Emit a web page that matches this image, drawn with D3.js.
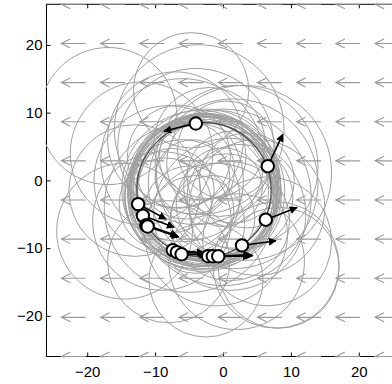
<!DOCTYPE html>
<html>
<head>
<meta charset="utf-8">
<script src="https://cdn.jsdelivr.net/npm/d3@7"></script>
<style>
  body { margin: 0; background: #fff; }
  text { font-family: "Liberation Sans", Arial, Helvetica, sans-serif; }
</style>
</head>
<body>
<div id="chart"></div>
<script>
// axis ticks
const xTicks = [-20, -10, 0, 10, 20];
const yTicks = [-20, -10, 0, 10, 20];

// quiver grid (uniform flow to the left)
const gridX = [-26, -20.22, -14.44, -8.67, -2.89, 2.89, 8.67, 14.44, 20.22, 26];
const gridY = [-26, -20.22, -14.44, -8.67, -2.89, 2.89, 8.67, 14.44, 20.22, 26];
const flowU = -3.6;

// trajectory loops: [cx, cy, r]
const bandLoops = [
  [-2.8, -1.4, 10.4], [-2.6, -1.2, 10.7], [-3.0, -1.6, 10.9], [-2.4, -1.8, 10.2],
  [-3.2, -1.0, 10.5], [-2.9, -1.5, 11.2], [-2.5, -1.3, 11.0], [-3.1, -1.9, 10.6],
  [-2.7, -0.9, 10.8], [-3.3, -1.8, 11.3], [-3.5, -2.2, 10.9], [-2.2, -1.0, 10.4],
  [-3.4, -1.2, 11.5], [-2.0, -2.0, 10.6], [-3.6, -1.5, 10.3], [-2.3, -1.6, 11.4],
  [-3.0, -2.4, 11.0], [-2.6, -0.6, 11.1]
];
const innerLoops = [
  [-5.5, 1.5, 7.2], [0.5, -3.5, 7.4], [-5.0, -4.5, 6.6], [-0.5, 2.5, 7.8],
  [-7.5, -1.5, 6.2], [1.5, 0.5, 6.8], [-3.0, 3.5, 6.4], [-1.5, -5.5, 6.2],
  [2.5, -2.5, 7.8], [-6.5, 3.5, 7.6], [-4.0, -6.5, 7.2], [0.5, 4.5, 7.2],
  [-8.5, -3.5, 6.8], [3.5, 0.0, 7.0], [-2.0, 5.5, 8.2], [-4.5, 0.5, 5.5],
  [0.0, -1.0, 5.8], [-6.0, -2.5, 8.5], [1.0, -6.0, 8.8]
];
const wideLoops = [
  [-6.0, 3.0, 12.0], [1.0, -5.0, 11.2], [-5.0, -4.0, 12.5], [2.0, 2.0, 12.0],
  [-8.0, 0.0, 11.0], [0.0, -2.5, 13.0], [-4.0, 5.0, 11.5], [3.1, 1.1, 12.9],
  [1.5, -0.5, 12.5], [-1.0, -8.0, 10.5], [-9.0, -6.0, 10.2], [5.0, -4.0, 10.0],
  [-3.5, 7.5, 12.5], [-7.0, 6.0, 10.0]
];
const outerLoops = [
  [-16.9, 9.5, 10.1], [-4.7, 13.3, 8.5], [7.8, -12.5, 9.3], [8.2, -12.9, 8.9],
  [-2.5, -14.7, 8.4], [-14.5, -7.5, 10.0], [-13.0, -1.5, 9.7], [-12.0, 4.0, 10.5],
  [6.5, -9.0, 9.5], [2.0, -12.0, 10.0], [-8.0, -12.0, 9.0]
];

// mean orbit
const orbit = [-2.8, -1.4, 9.9];

// particles: position and velocity tip
const partX = [-4.0, 6.6, 6.3, 2.8, -7.4, -6.8, -6.1, -2.2, -1.5, -0.7, -12.5, -11.8, -11.3, -11.1];
const partY = [8.4, 2.1, -5.8, -9.6, -10.3, -10.6, -10.9, -11.2, -11.2, -11.2, -3.5, -5.2, -6.6, -6.8];
const tipX  = [-8.7, 8.8, 10.9, 7.8, -2.8, -2.6, -2.4, 4.1, 4.4, 4.0, -8.4, -7.2, -6.7, -6.5];
const tipY  = [7.3, 6.8, -4.0, -8.9, -10.7, -10.8, -11.0, -11.0, -11.1, -11.2, -5.7, -6.9, -8.2, -8.4];

const W = 392, H = 384;
const x = d3.scaleLinear().domain([-26, 26]).range([46.5, 399.5]);
const y = d3.scaleLinear().domain([-26, 26]).range([356.5, 4.3]);
const px = d => Math.abs(x(d) - x(0));

const svg = d3.select("#chart").append("svg")
  .attr("width", W)
  .attr("height", H);

const defs = svg.append("defs");
defs.append("clipPath").attr("id", "clip")
  .append("rect")
  .attr("x", x(-26) - 1).attr("y", y(26) - 1)
  .attr("width", x(26) - x(-26) + 2).attr("height", y(-26) - y(26) + 2);
defs.append("marker")
  .attr("id", "head")
  .attr("viewBox", "0 0 10 10")
  .attr("refX", 9).attr("refY", 5)
  .attr("markerWidth", 8).attr("markerHeight", 8)
  .attr("markerUnits", "userSpaceOnUse")
  .attr("orient", "auto")
  .append("path")
  .attr("d", "M0,0 L10,5 L0,10 z")
  .attr("fill", "#000");

// --- axes (drawn below the data, like a matlab box) ---
const axes = svg.append("g");
axes.append("rect")
  .attr("x", x(-26)).attr("y", y(26))
  .attr("width", x(26) - x(-26)).attr("height", y(-26) - y(26))
  .attr("fill", "none").attr("stroke", "#000").attr("stroke-width", 1);

axes.append("g")
  .attr("transform", `translate(0,${y(-26)})`)
  .call(d3.axisBottom(x).tickValues(xTicks).tickSizeInner(-4).tickSizeOuter(0).tickPadding(10).tickFormat(d3.format("")))
  .call(g => g.select(".domain").remove());
axes.append("g")
  .attr("transform", `translate(0,${y(26)})`)
  .call(d3.axisTop(x).tickValues(xTicks).tickSizeInner(-4).tickSizeOuter(0).tickFormat(() => ""))
  .call(g => g.select(".domain").remove());
axes.append("g")
  .attr("transform", `translate(${x(-26)},0)`)
  .call(d3.axisLeft(y).tickValues(yTicks).tickSizeInner(-4).tickSizeOuter(0).tickPadding(4).tickFormat(d3.format("")))
  .call(g => g.select(".domain").remove());

axes.selectAll(".tick line").attr("stroke", "#000");
axes.selectAll(".tick text")
  .attr("fill", "#000")
  .style("font-size", "15px")
  .style("font-family", "'Liberation Sans', Arial, sans-serif");

// --- data layer ---
const plot = svg.append("g").attr("clip-path", "url(#clip)");

// quiver field
const quiver = [];
gridY.forEach(gy => gridX.forEach(gx => quiver.push({ gx, gy })));
const qg = plot.append("g")
  .attr("stroke", "#9a9a9a")
  .attr("stroke-width", 1.1)
  .attr("fill", "none");
qg.selectAll("path")
  .data(quiver)
  .enter()
  .append("path")
  .attr("d", d => {
    const x0 = x(d.gx), y0 = y(d.gy), x1 = x(d.gx + flowU);
    return `M${x0},${y0}L${x1},${y0}M${x1 + 9},${y0 - 4.5}L${x1},${y0}L${x1 + 9},${y0 + 4.5}`;
  });

// loops
const loops = bandLoops.concat(innerLoops, wideLoops, outerLoops);
plot.append("g")
  .selectAll("circle")
  .data(loops)
  .enter()
  .append("circle")
  .attr("cx", d => x(d[0]))
  .attr("cy", d => y(d[1]))
  .attr("r", d => px(d[2]))
  .attr("fill", "none")
  .attr("stroke", "#a0a0a0")
  .attr("stroke-width", 1);

// mean orbit
plot.append("circle")
  .attr("cx", x(orbit[0]))
  .attr("cy", y(orbit[1]))
  .attr("r", px(orbit[2]))
  .attr("fill", "none")
  .attr("stroke", "#4a4a4a")
  .attr("stroke-width", 1.3);

// velocity arrows
const parts = partX.map((v, i) => ({ x: v, y: partY[i], tx: tipX[i], ty: tipY[i] }));
plot.append("g")
  .selectAll("line")
  .data(parts)
  .enter()
  .append("line")
  .attr("x1", d => x(d.x))
  .attr("y1", d => y(d.y))
  .attr("x2", d => x(d.tx))
  .attr("y2", d => y(d.ty))
  .attr("stroke", "#000")
  .attr("stroke-width", 1.6)
  .attr("marker-end", "url(#head)");

// particles
plot.append("g")
  .selectAll("circle")
  .data(parts)
  .enter()
  .append("circle")
  .attr("cx", d => x(d.x))
  .attr("cy", d => y(d.y))
  .attr("r", 6.2)
  .attr("fill", "#fff")
  .attr("stroke", "#000")
  .attr("stroke-width", 2);
</script>
</body>
</html>
